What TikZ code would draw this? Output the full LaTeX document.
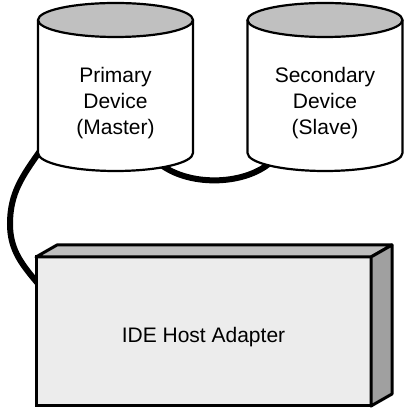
\documentclass[tikz,border=0pt]{standalone}
\usepackage{fontspec}
\setmainfont{Liberation Sans}
\usetikzlibrary{positioning}
\definecolor{disktop}{RGB}{192,192,192}
\definecolor{hostfront}{RGB}{236,236,236}
\definecolor{hosttop}{RGB}{190,190,190}
\definecolor{hostside}{RGB}{160,160,160}

\begin{document}
\begin{tikzpicture}[
    x=1pt, y=1pt,
    disk/.style={draw, line width=2.2pt, fill=white},
    disklabel/.style={font=\fontsize{21}{26}\selectfont, align=center},
    hostbox/.style={draw, line width=3pt, fill=hostfront, outer sep=0pt,
      minimum width=335pt, minimum height=149pt, text height=26pt,
      font=\fontsize{21}{25}\selectfont},
    cable/.style={line width=6pt}
]
\useasboundingbox (0,0) rectangle (410,414);

% cable ends sit inside the disks and the box, which are drawn over them
\coordinate (master-port) at (40,263);
\coordinate (master-link) at (160,250);
\coordinate (slave-link) at (270,251);
\coordinate (cable-bend) at (10,190);
\coordinate (host-port) at (40,128);

\draw[cable] (master-port) to[out=235, in=90] (cable-bend)
    to[out=-90, in=130] (host-port);
\draw[cable] (master-link) .. controls (188,228) and (242,228) .. (slave-link);

% the two disks
\foreach \cx in {115.5,325} {
  \draw[disk] (\cx-77.5,394) -- (\cx-77.5,261)
      arc[start angle=180, end angle=360, x radius=77.5, y radius=18]
      -- (\cx+77.5,394);
  \draw[disk, fill=disktop] (\cx,394) ellipse[x radius=77.5, y radius=17];
}
\node[disklabel] (primary) at (115.5,311) {Primary\\Device\\(Master)};
\node[disklabel] (secondary) at (325,311) {Secondary\\Device\\(Slave)};

% host adapter box
\node[hostbox] (host) at (203.5,82.5) {IDE Host Adapter};
\draw[line width=3pt, line join=round, fill=hosttop] (host.north west) -- ++(21,12)
    -- ++(335,0) -- (host.north east) -- cycle;
\draw[line width=3pt, line join=round, fill=hostside] (host.north east) -- ++(21,12)
    -- ++(0,-149) -- (host.south east) -- cycle;
\end{tikzpicture}
\end{document}
